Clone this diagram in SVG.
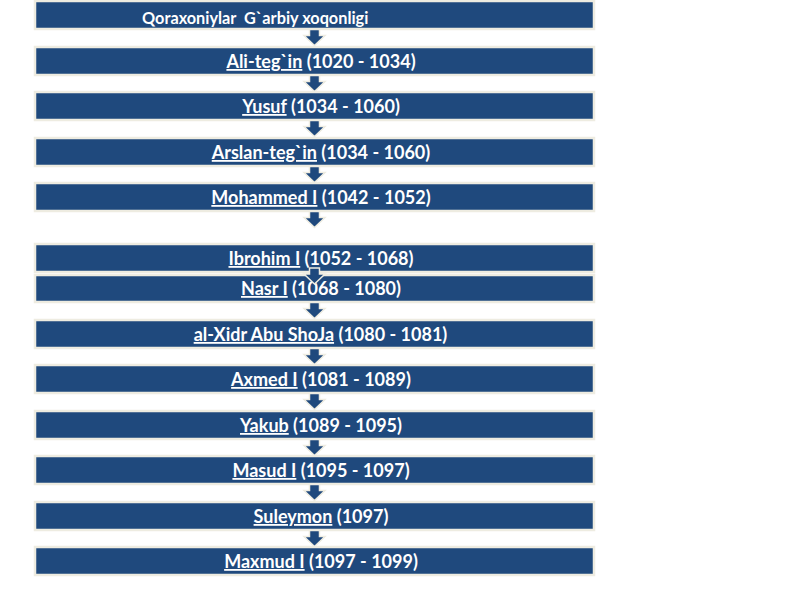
<svg xmlns="http://www.w3.org/2000/svg" width="800" height="600" viewBox="0 0 800 600">
<style>
.box{fill:#1f497d;stroke:#eeece1;stroke-width:2.5}
.t{font-family:Lato,"Liberation Sans",sans-serif;font-size:18px;font-weight:bold;fill:#ffffff;text-anchor:middle}
.u{text-decoration:underline}
.arr{fill:#1f497d;stroke:#eeece1;stroke-width:1.5;stroke-linejoin:miter}
</style>
<defs>
<path id="a" d="M-5,0 L5,0 L5,6 L10.5,6 L0,16 L-10.5,6 L-5,6 Z"/>
</defs>
<rect width="800" height="600" fill="#ffffff"/>
<g id="n0"><rect class="box" x="35" y="1" width="559" height="28"/><text class="t" x="142" y="24" xml:space="preserve" style="text-anchor:start;font-size:16.3px">Qoraxoniylar  G`arbiy xoqonligi</text></g>
<g id="n1"><rect class="box" x="35" y="47" width="559" height="28"/><text class="t" x="321" y="68"><tspan class="u">Ali-teg`in</tspan> (1020 - 1034)</text></g>
<g id="n2"><rect class="box" x="35" y="92" width="559" height="28"/><text class="t" x="321" y="113"><tspan class="u">Yusuf</tspan> (1034 - 1060)</text></g>
<g id="n3"><rect class="box" x="35" y="138" width="559" height="28"/><text class="t" x="321" y="159"><tspan class="u">Arslan-teg`in</tspan> (1034 - 1060)</text></g>
<g id="n4"><rect class="box" x="35" y="183" width="559" height="28"/><text class="t" x="321" y="204"><tspan class="u">Mohammed I</tspan> (1042 - 1052)</text></g>
<g id="n5"><rect class="box" x="35" y="244" width="559" height="28"/><text class="t" x="321" y="265"><tspan class="u">Ibrohim I</tspan> (1052 - 1068)</text></g>
<g id="n6"><rect class="box" x="35" y="275" width="559" height="27"/><text class="t" x="321" y="295"><tspan class="u">Nasr I</tspan> (1068 - 1080)</text></g>
<g id="n7"><rect class="box" x="35" y="320" width="559" height="28"/><text class="t" x="320.5" y="341"><tspan class="u">al-Xidr Abu ShoJa</tspan> (1080 - 1081)</text></g>
<g id="n8"><rect class="box" x="35" y="365" width="559" height="28"/><text class="t" x="321" y="386"><tspan class="u">Axmed I</tspan> (1081 - 1089)</text></g>
<g id="n9"><rect class="box" x="35" y="411" width="559" height="28"/><text class="t" x="321" y="432"><tspan class="u">Yakub</tspan> (1089 - 1095)</text></g>
<g id="n10"><rect class="box" x="35" y="456" width="559" height="28"/><text class="t" x="321" y="477"><tspan class="u">Masud I</tspan> (1095 - 1097)</text></g>
<g id="n11"><rect class="box" x="35" y="502" width="559" height="28"/><text class="t" x="321" y="523"><tspan class="u">Suleymon</tspan> (1097)</text></g>
<g id="n12"><rect class="box" x="35" y="547" width="559" height="28"/><text class="t" x="321" y="568"><tspan class="u">Maxmud I</tspan> (1097 - 1099)</text></g>
<g id="connectors">
<use href="#a" class="arr" x="314.5" y="29.5"/>
<use href="#a" class="arr" x="314.5" y="75.5"/>
<use href="#a" class="arr" x="314.5" y="120.5"/>
<use href="#a" class="arr" x="314.5" y="166.5"/>
<use href="#a" class="arr" x="314.5" y="211.5"/>
<use href="#a" class="arr" x="314.5" y="268"/>
<use href="#a" class="arr" x="314.5" y="302.5"/>
<use href="#a" class="arr" x="314.5" y="348.5"/>
<use href="#a" class="arr" x="314.5" y="393.5"/>
<use href="#a" class="arr" x="314.5" y="439.5"/>
<use href="#a" class="arr" x="314.5" y="484.5"/>
<use href="#a" class="arr" x="314.5" y="530.5"/>
</g>
</svg>
